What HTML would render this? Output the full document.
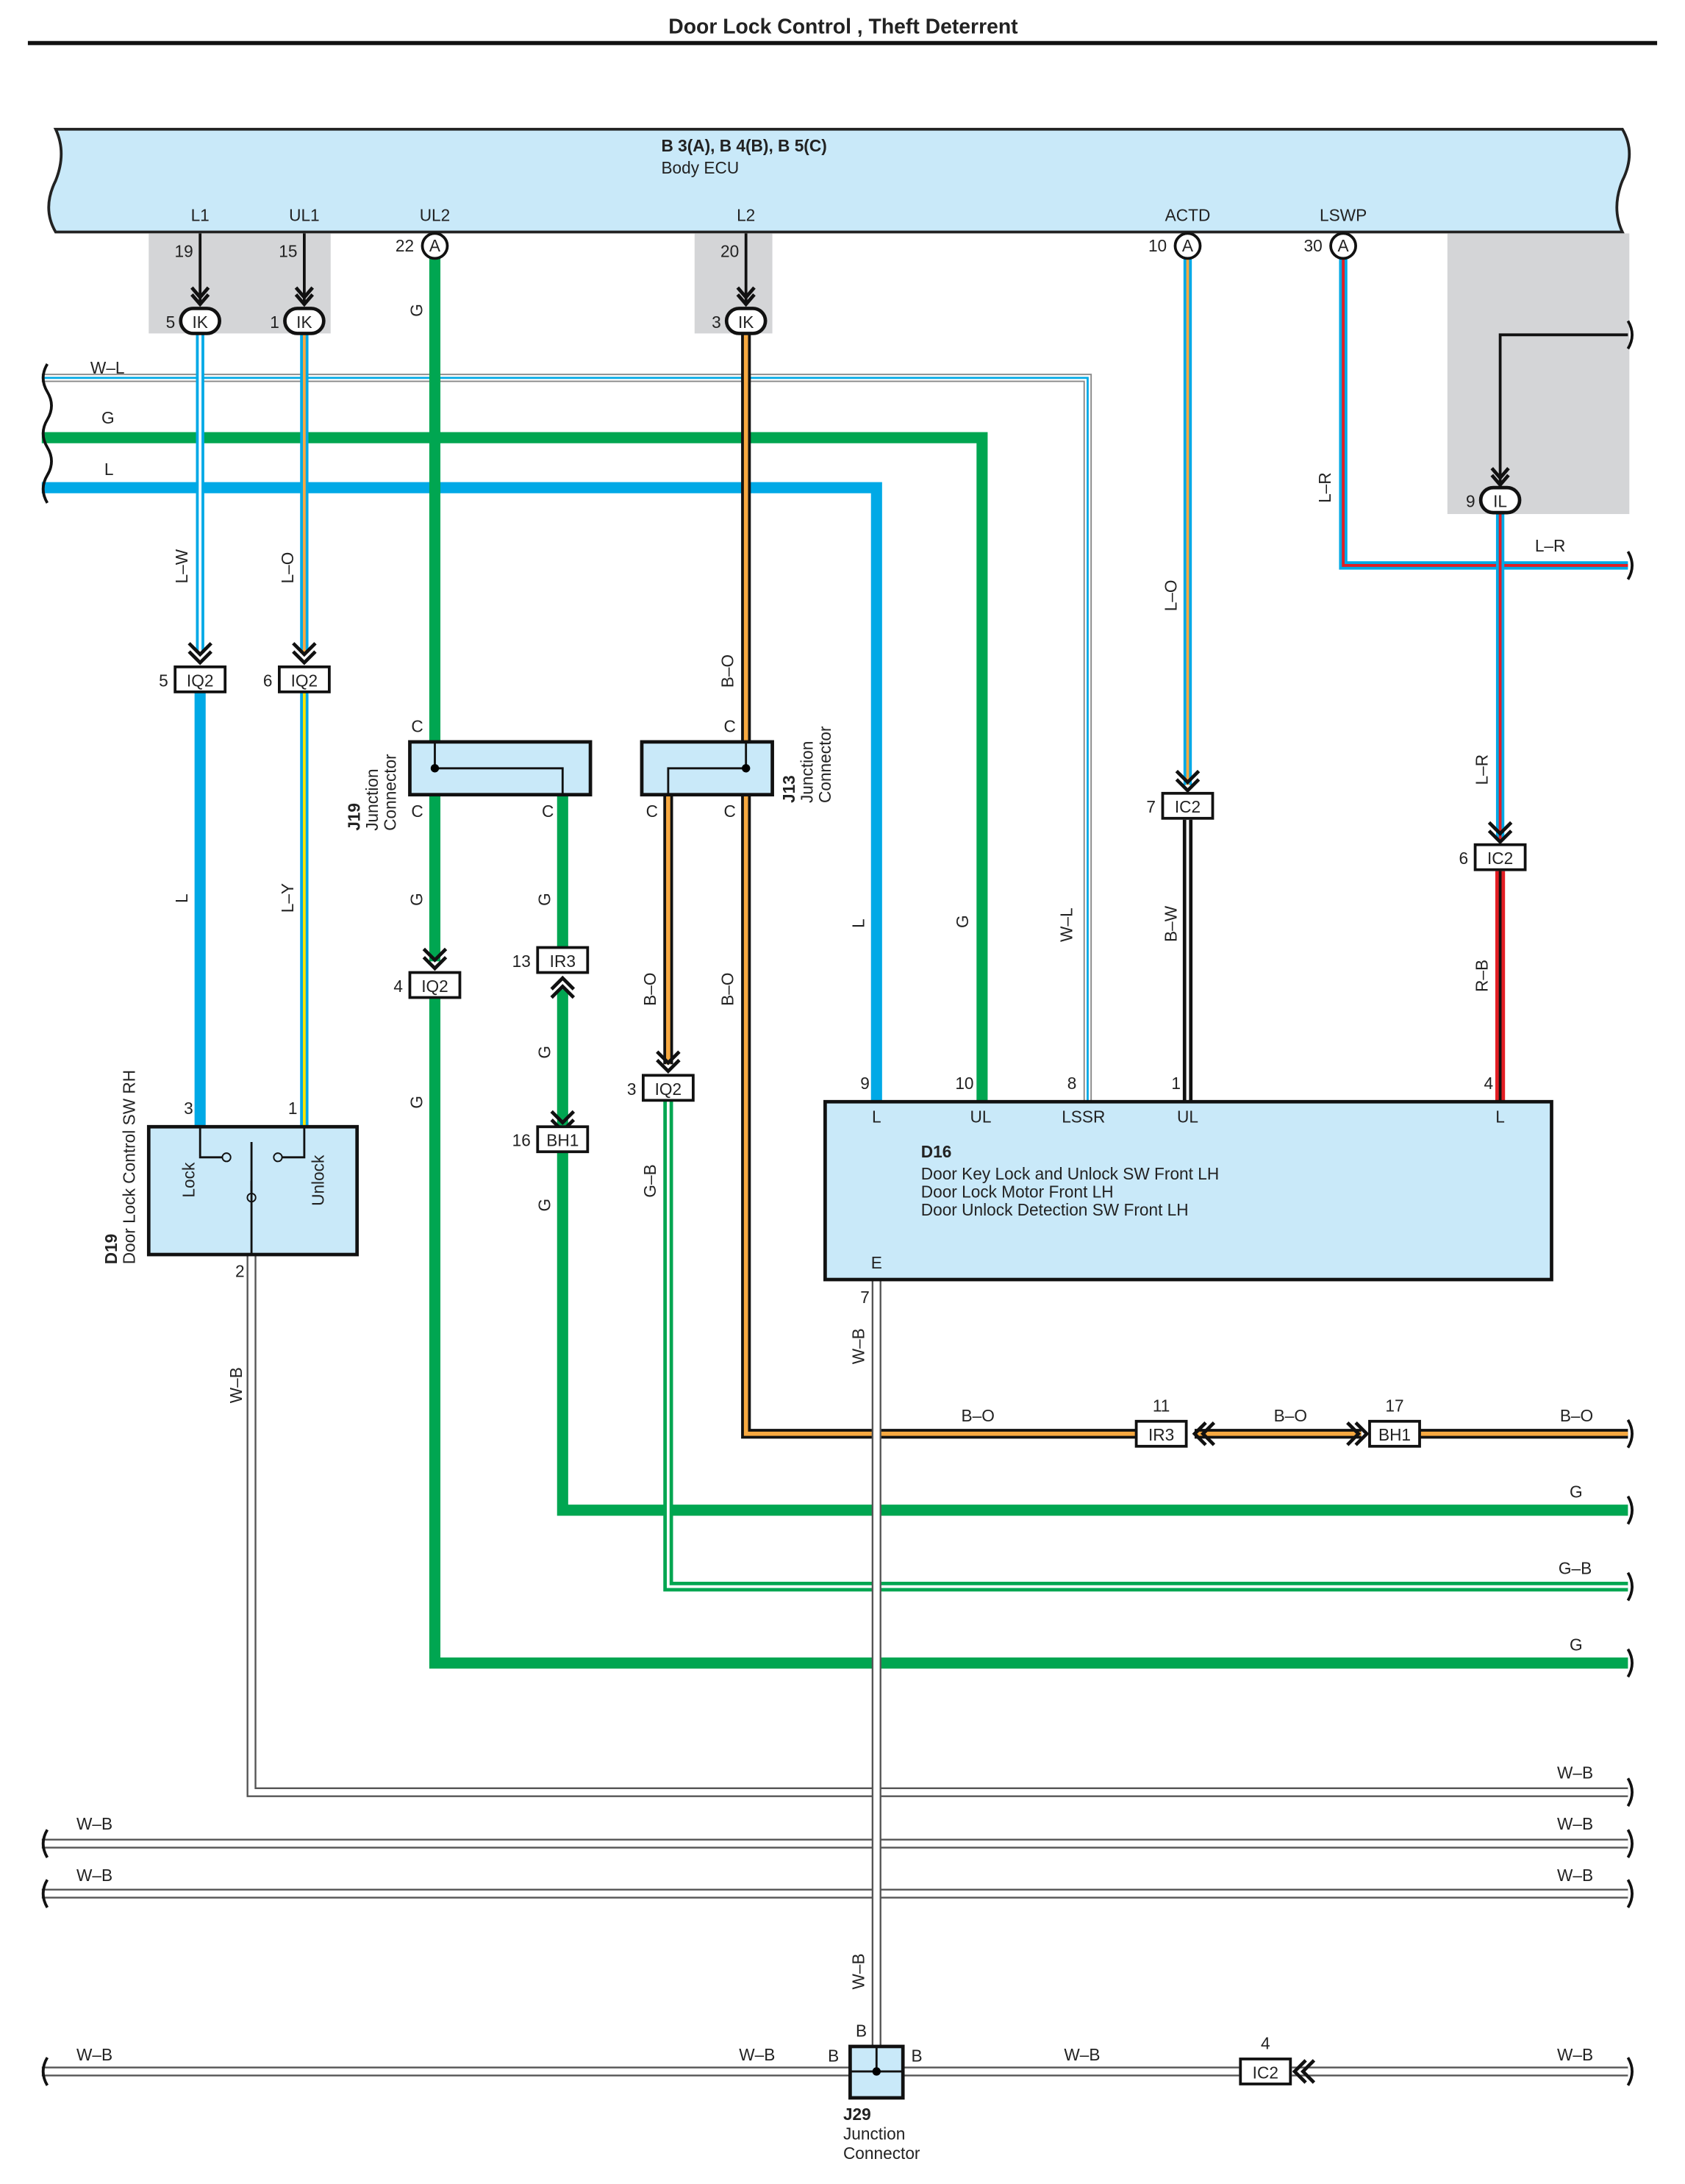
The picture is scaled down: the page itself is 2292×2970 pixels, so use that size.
<!DOCTYPE html>
<html><head><meta charset="utf-8"><style>
html,body{margin:0;padding:0;background:#fff}
svg{display:block}
text{font-family:"Liberation Sans",sans-serif;font-size:12px;fill:#222}
.t{font-size:12px}
.b{font-weight:bold}
.f{fill:none;stroke-linejoin:miter}
</style></head><body>
<svg width="2292" height="2970" viewBox="0 0 1213 1572" xmlns="http://www.w3.org/2000/svg">
<text x="607" y="24" text-anchor="middle" class="b" style="font-size:15px">Door Lock Control , Theft Deterrent</text>
<line x1="20" y1="31" x2="1193" y2="31" stroke="#111" stroke-width="3"/>
<!-- ECU -->
<path d="M40 93 H1168 Q1178 110 1168 130 Q1160 150 1168 167 H40 Q30 150 40 130 Q48 110 40 93 Z" fill="#c9e9f9" stroke="#222" stroke-width="2"/>
<text x="476" y="109" class="b">B 3(A), B 4(B), B 5(C)</text>
<text x="476" y="125">Body ECU</text>
<g text-anchor="middle"><text x="144" y="159">L1</text><text x="219" y="159">UL1</text><text x="313" y="159">UL2</text><text x="537" y="159">L2</text><text x="855" y="159">ACTD</text><text x="967" y="159">LSWP</text></g>
<rect x="107" y="168" width="131" height="72" fill="#d4d5d7"/>
<rect x="500" y="168" width="56" height="72" fill="#d4d5d7"/>
<rect x="1042" y="168" width="131" height="202" fill="#d4d5d7"/>
<g text-anchor="end"><text x="139" y="185">19</text><text x="214" y="185">15</text><text x="298" y="181">22</text><text x="532" y="185">20</text><text x="840" y="181">10</text><text x="952" y="181">30</text></g>
<!-- W-L horizontal -->
<path class="f" d="M30 272 H783 V792" stroke="#888" stroke-width="6"/><path class="f" d="M30 272 H783 V792" stroke="#fff" stroke-width="4"/><path class="f" d="M30 272 H783 V792" stroke="#00a9e6" stroke-width="1.5"/>
<!-- G horizontal -->
<path class="f" d="M30 315 H707 V792" stroke="#00a651" stroke-width="8"/>
<!-- L horizontal -->
<path class="f" d="M30 351 H631 V792" stroke="#00a9e6" stroke-width="8"/>
<!-- L1 -->
<line x1="144" y1="168" x2="144" y2="218" stroke="#111" stroke-width="2"/>
<path class="f" d="M144 240 V470" stroke="#00a9e6" stroke-width="6"/><path class="f" d="M144 240 V470" stroke="#fff" stroke-width="2"/>
<path class="f" d="M144 498 V810" stroke="#00a9e6" stroke-width="8"/>
<!-- UL1 -->
<line x1="219" y1="168" x2="219" y2="218" stroke="#111" stroke-width="2"/>
<path class="f" d="M219 240 V470" stroke="#00a9e6" stroke-width="6"/><path class="f" d="M219 240 V470" stroke="#f7a941" stroke-width="2"/>
<path class="f" d="M219 498 V810" stroke="#00a9e6" stroke-width="6"/><path class="f" d="M219 498 V810" stroke="#ffe500" stroke-width="2"/>
<!-- UL2 -->
<path class="f" d="M313 186 V534" stroke="#00a651" stroke-width="8"/>
<path class="f" d="M313 572 V692" stroke="#00a651" stroke-width="8"/>
<path class="f" d="M313 718 V1197 H1172" stroke="#00a651" stroke-width="8"/>
<path class="f" d="M405 572 V682" stroke="#00a651" stroke-width="8"/>
<path class="f" d="M405 712 V812" stroke="#00a651" stroke-width="8"/>
<path class="f" d="M405 829 V1087 H1172" stroke="#00a651" stroke-width="8"/>
<!-- L2 -->
<line x1="537" y1="168" x2="537" y2="218" stroke="#111" stroke-width="2"/>
<path class="f" d="M537 240 V534" stroke="#111" stroke-width="7"/><path class="f" d="M537 240 V534" stroke="#f7a941" stroke-width="3"/>
<path class="f" d="M537 572 V1032 H818" stroke="#111" stroke-width="7"/><path class="f" d="M537 572 V1032 H818" stroke="#f7a941" stroke-width="3"/>
<path class="f" d="M860 1032 H980" stroke="#111" stroke-width="7"/><path class="f" d="M860 1032 H980" stroke="#f7a941" stroke-width="3"/>
<path class="f" d="M1022 1032 H1172" stroke="#111" stroke-width="7"/><path class="f" d="M1022 1032 H1172" stroke="#f7a941" stroke-width="3"/>
<path class="f" d="M481 572 V766" stroke="#111" stroke-width="7"/><path class="f" d="M481 572 V766" stroke="#f7a941" stroke-width="3"/>
<path class="f" d="M481 792 V1142 H1172" stroke="#00a651" stroke-width="7"/><path class="f" d="M481 792 V1142 H1172" stroke="#fff" stroke-width="2"/>
<!-- ACTD -->
<path class="f" d="M855 186 V565" stroke="#00a9e6" stroke-width="6"/><path class="f" d="M855 186 V565" stroke="#f7a941" stroke-width="2"/>
<path class="f" d="M855 590 V792" stroke="#111" stroke-width="7"/><path class="f" d="M855 590 V792" stroke="#fff" stroke-width="2"/>
<!-- LSWP -->
<path class="f" d="M967 186 V407 H1172" stroke="#00a9e6" stroke-width="6"/><path class="f" d="M967 186 V407 H1172" stroke="#e31e24" stroke-width="2"/>
<path class="f" d="M1172 241 H1080 V348" stroke="#111" stroke-width="2"/>
<path class="f" d="M1080 369 V605" stroke="#00a9e6" stroke-width="6"/><path class="f" d="M1080 369 V605" stroke="#e31e24" stroke-width="2"/>
<path class="f" d="M1080 627 V792" stroke="#e31e24" stroke-width="7"/><path class="f" d="M1080 627 V792" stroke="#111" stroke-width="2"/>
<!-- W-B wires -->
<g class="f">
<path d="M181 903 V1290 H1172" stroke="#555" stroke-width="7"/><path d="M181 903 V1290 H1172" stroke="#fff" stroke-width="4.5"/>
<path d="M30 1327 H1172" stroke="#555" stroke-width="7"/><path d="M30 1327 H1172" stroke="#fff" stroke-width="4.5"/>
<path d="M30 1363 H1172" stroke="#555" stroke-width="7"/><path d="M30 1363 H1172" stroke="#fff" stroke-width="4.5"/>
<path d="M631 921 V1491" stroke="#555" stroke-width="7"/><path d="M631 921 V1491" stroke="#fff" stroke-width="4.5"/>
<path d="M30 1491 H892 M930 1491 H1172" stroke="#555" stroke-width="7"/><path d="M30 1491 H892 M930 1491 H1172" stroke="#fff" stroke-width="4.5"/>
</g>
<!-- ECU A circles -->
<g fill="#fff" stroke="#111" stroke-width="2"><circle cx="313" cy="177" r="9"/><circle cx="855" cy="177" r="9"/><circle cx="967" cy="177" r="9"/></g>
<g text-anchor="middle" style="font-size:11px"><text x="313" y="181">A</text><text x="855" y="181">A</text><text x="967" y="181">A</text></g>
<!-- IK/IL pills -->
<g fill="#fff" stroke="#111" stroke-width="2.5"><rect x="130" y="222" width="28" height="18" rx="9"/><rect x="205" y="222" width="28" height="18" rx="9"/><rect x="523" y="222" width="28" height="18" rx="9"/><rect x="1066" y="351" width="28" height="18" rx="9"/></g>
<g text-anchor="middle"><text x="144" y="236">IK</text><text x="219" y="236">IK</text><text x="537" y="236">IK</text><text x="1080" y="365">IL</text></g>
<g text-anchor="end"><text x="126" y="236">5</text><text x="201" y="236">1</text><text x="519" y="236">3</text><text x="1062" y="365">9</text></g>
<!-- down chevrons -->
<g fill="none" stroke="#111" stroke-width="2.5">
<path d="M138 207 L144 214 L150 207 M138 212 L144 219 L150 212"/>
<path d="M213 207 L219 214 L225 207 M213 212 L219 219 L225 212"/>
<path d="M531 207 L537 214 L543 207 M531 212 L537 219 L543 212"/>
<path d="M1074 337 L1080 344 L1086 337 M1074 342 L1080 349 L1086 342"/>
<path d="M136 463 L144 471 L152 463 M136 469 L144 477 L152 469"/>
<path d="M211 463 L219 471 L227 463 M211 469 L219 477 L227 469"/>
<path d="M305 683 L313 691 L321 683 M305 689 L313 697 L321 689"/>
<path d="M397 800 L405 808 L413 800 M397 806 L405 814 L413 806"/>
<path d="M397 712 L405 704 L413 712 M397 718 L405 710 L413 718"/>
<path d="M473 757 L481 765 L489 757 M473 763 L481 771 L489 763"/>
<path d="M847 555 L855 563 L863 555 M847 561 L855 569 L863 561"/>
<path d="M1072 592 L1080 600 L1088 592 M1072 598 L1080 606 L1088 598"/>
<path d="M868 1024 L860 1032 L868 1040 M874 1024 L866 1032 L874 1040"/>
<path d="M970 1024 L978 1032 L970 1040 M976 1024 L984 1032 L976 1040"/>
<path d="M940 1483 L932 1491 L940 1499 M946 1483 L938 1491 L946 1499"/>
</g>
<!-- connector boxes -->
<g fill="#fff" stroke="#111" stroke-width="2">
<rect x="126" y="480" width="36" height="18"/><rect x="201" y="480" width="36" height="18"/>
<rect x="295" y="700" width="36" height="18"/><rect x="387" y="682" width="36" height="18"/>
<rect x="387" y="811" width="36" height="18"/><rect x="463" y="774" width="36" height="18"/>
<rect x="837" y="571" width="36" height="18"/><rect x="1062" y="608" width="36" height="18"/>
<rect x="818" y="1023" width="36" height="18"/><rect x="986" y="1023" width="36" height="18"/>
<rect x="893" y="1482" width="36" height="18"/>
</g>
<g text-anchor="middle">
<text x="144" y="494">IQ2</text><text x="219" y="494">IQ2</text><text x="313" y="714">IQ2</text><text x="405" y="696">IR3</text>
<text x="405" y="825">BH1</text><text x="481" y="788">IQ2</text><text x="855" y="585">IC2</text><text x="1080" y="622">IC2</text>
<text x="836" y="1037">IR3</text><text x="1004" y="1037">BH1</text><text x="911" y="1496">IC2</text>
</g>
<g text-anchor="end"><text x="121" y="494">5</text><text x="196" y="494">6</text><text x="290" y="714">4</text><text x="382" y="696">13</text><text x="382" y="825">16</text><text x="458" y="788">3</text><text x="832" y="585">7</text><text x="1057" y="622">6</text></g>
<g text-anchor="middle"><text x="836" y="1016">11</text><text x="1004" y="1016">17</text><text x="911" y="1475">4</text></g>
<!-- junction connectors -->
<rect x="295" y="534" width="130" height="38" fill="#c9e9f9" stroke="#111" stroke-width="2.5"/>
<path d="M313 534 V553 H405 V572" fill="none" stroke="#111" stroke-width="1.5"/><circle cx="313" cy="553" r="3"/>
<rect x="462" y="534" width="94" height="38" fill="#c9e9f9" stroke="#111" stroke-width="2.5"/>
<path d="M537 534 V553 H481 V572" fill="none" stroke="#111" stroke-width="1.5"/><circle cx="537" cy="553" r="3"/>
<g><text x="296" y="527">C</text><text x="296" y="588">C</text><text x="390" y="588">C</text><text x="521" y="527">C</text><text x="465" y="588">C</text><text x="521" y="588">C</text></g>
<g transform="translate(259,598) rotate(-90)"><text class="b">J19</text><text y="13">Junction</text><text y="26">Connector</text></g>
<g transform="translate(572,578) rotate(-90)"><text class="b">J13</text><text y="13">Junction</text><text y="26">Connector</text></g>
<!-- D16 -->
<rect x="594" y="793" width="523" height="128" fill="#c9e9f9" stroke="#111" stroke-width="2.5"/>
<g text-anchor="middle"><text x="631" y="808">L</text><text x="706" y="808">UL</text><text x="780" y="808">LSSR</text><text x="855" y="808">UL</text><text x="1080" y="808">L</text><text x="631" y="913">E</text></g>
<g text-anchor="end"><text x="626" y="784">9</text><text x="701" y="784">10</text><text x="775" y="784">8</text><text x="850" y="784">1</text><text x="1075" y="784">4</text><text x="626" y="938">7</text></g>
<text x="663" y="833" class="b">D16</text>
<text x="663" y="849">Door Key Lock and Unlock SW Front LH</text>
<text x="663" y="862">Door Lock Motor Front LH</text>
<text x="663" y="875">Door Unlock Detection SW Front LH</text>
<!-- D19 -->
<rect x="107" y="811" width="150" height="92" fill="#c9e9f9" stroke="#111" stroke-width="2.5"/>
<path d="M144 811 V833 H160 M219 811 V833 H203 M181 903 V862 M181 862 L181 850" fill="none" stroke="#111" stroke-width="1.5"/>
<circle cx="163" cy="833" r="3" fill="none" stroke="#111"/><circle cx="200" cy="833" r="3" fill="none" stroke="#111"/><circle cx="181" cy="862" r="3" fill="none" stroke="#111"/>
<line x1="181" y1="858" x2="181" y2="822" stroke="#111" stroke-width="1.5"/>
<g text-anchor="end"><text x="139" y="802">3</text><text x="214" y="802">1</text><text x="176" y="919">2</text></g>
<g transform="translate(140,862) rotate(-90)"><text>Lock</text></g>
<g transform="translate(233,868) rotate(-90)"><text>Unlock</text></g>
<g transform="translate(84,910) rotate(-90)"><text class="b">D19</text><text y="13">Door Lock Control SW RH</text></g>
<!-- J29 -->
<rect x="612" y="1473" width="38" height="37" fill="#c9e9f9" stroke="#111" stroke-width="2.5"/>
<path d="M631 1473 V1491 M612 1491 H650" stroke="#111" stroke-width="1.5"/><circle cx="631" cy="1491" r="3"/>
<text x="616" y="1466">B</text><text x="596" y="1484">B</text><text x="656" y="1484">B</text>
<text x="607" y="1526" class="b">J29</text><text x="607" y="1540">Junction</text><text x="607" y="1554">Connector</text>
<!-- wire labels horizontal -->
<g>
<text x="65" y="269">W–L</text><text x="73" y="305">G</text><text x="75" y="342">L</text><text x="1105" y="397">L–R</text>
<text x="692" y="1023">B–O</text><text x="917" y="1023">B–O</text><text x="1123" y="1023">B–O</text>
<text x="1130" y="1078">G</text><text x="1122" y="1133">G–B</text><text x="1130" y="1188">G</text>
<text x="1121" y="1280">W–B</text><text x="55" y="1317">W–B</text><text x="1121" y="1317">W–B</text>
<text x="55" y="1354">W–B</text><text x="1121" y="1354">W–B</text>
<text x="55" y="1483">W–B</text><text x="532" y="1483">W–B</text><text x="766" y="1483">W–B</text><text x="1121" y="1483">W–B</text>
</g>
<!-- wire labels vertical -->
<g>
<text transform="translate(135,420) rotate(-90)">L–W</text>
<text transform="translate(211,420) rotate(-90)">L–O</text>
<text transform="translate(304,228) rotate(-90)">G</text>
<text transform="translate(528,495) rotate(-90)">B–O</text>
<text transform="translate(847,440) rotate(-90)">L–O</text>
<text transform="translate(958,362) rotate(-90)">L–R</text>
<text transform="translate(1071,565) rotate(-90)">L–R</text>
<text transform="translate(135,650) rotate(-90)">L</text>
<text transform="translate(211,657) rotate(-90)">L–Y</text>
<text transform="translate(304,652) rotate(-90)">G</text>
<text transform="translate(396,652) rotate(-90)">G</text>
<text transform="translate(396,762) rotate(-90)">G</text>
<text transform="translate(396,872) rotate(-90)">G</text>
<text transform="translate(304,798) rotate(-90)">G</text>
<text transform="translate(472,724) rotate(-90)">B–O</text>
<text transform="translate(528,724) rotate(-90)">B–O</text>
<text transform="translate(472,862) rotate(-90)">G–B</text>
<text transform="translate(622,668) rotate(-90)">L</text>
<text transform="translate(697,668) rotate(-90)">G</text>
<text transform="translate(772,678) rotate(-90)">W–L</text>
<text transform="translate(847,678) rotate(-90)">B–W</text>
<text transform="translate(1071,714) rotate(-90)">R–B</text>
<text transform="translate(622,982) rotate(-90)">W–B</text>
<text transform="translate(174,1010) rotate(-90)">W–B</text>
<text transform="translate(622,1432) rotate(-90)">W–B</text>
</g>
<!-- wavy ends -->
<g fill="none" stroke="#111" stroke-width="2">
<path d="M34 262 Q28 272 34 282 Q40 292 34 302 Q28 312 34 322 Q40 332 34 342 Q28 352 34 362"/>
<path d="M34 1317 Q28 1327 34 1337 M34 1353 Q28 1363 34 1373 M34 1481 Q28 1491 34 1501"/>
<path d="M1172 231 Q1178 241 1172 251 M1172 397 Q1178 407 1172 417 M1172 1022 Q1178 1032 1172 1042 M1172 1077 Q1178 1087 1172 1097 M1172 1132 Q1178 1142 1172 1152 M1172 1187 Q1178 1197 1172 1207 M1172 1280 Q1178 1290 1172 1300 M1172 1317 Q1178 1327 1172 1337 M1172 1353 Q1178 1363 1172 1373 M1172 1481 Q1178 1491 1172 1501"/>
</g>
</svg>
</body></html>
